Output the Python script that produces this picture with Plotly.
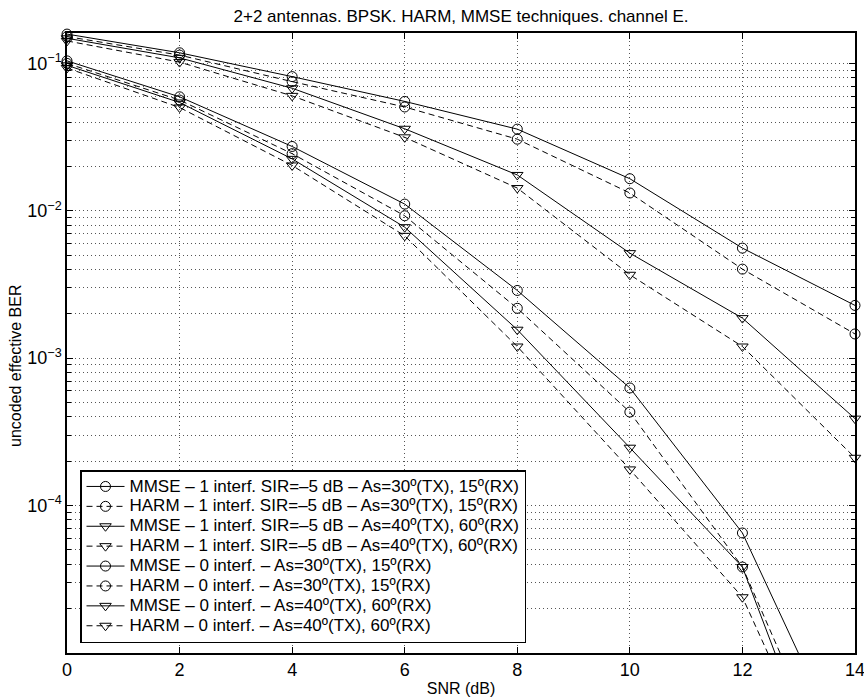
import plotly.graph_objects as go

snr = [0, 2, 4, 6, 8, 10, 12, 14]

mmse_1i_30 = [0.158, 0.118, 0.0813, 0.0552, 0.0358, 0.0165, 0.00558, 0.00228]
harm_1i_30 = [0.152, 0.1138, 0.0752, 0.0506, 0.0306, 0.0132, 0.00402, 0.00146]
mmse_1i_40 = [0.148, 0.109, 0.0678, 0.036, 0.0175, 0.00516, 0.00187, 0.000389]
harm_1i_40 = [0.142, 0.102, 0.0602, 0.0315, 0.01426, 0.00368, 0.0012, 0.000211]
mmse_0i_30 = [0.104, 0.0593, 0.0273, 0.0111, 0.00288, 0.000628, 6.52e-5, 1.5e-6]
harm_0i_30 = [0.100, 0.0564, 0.0244, 0.00925, 0.00218, 0.000431, 3.83e-5, 6.9e-7]
mmse_0i_40 = [0.097, 0.0543, 0.0225, 0.00774, 0.00156, 0.000247, 3.83e-5, 3.7e-7]
harm_0i_40 = [0.093, 0.0502, 0.0203, 0.00676, 0.0012, 0.000176, 2.39e-5, 5e-7]

names = [
    "MMSE – 1 interf. SIR=–5 dB – As=30º(TX), 15º(RX)",
    "HARM – 1 interf. SIR=–5 dB – As=30º(TX), 15º(RX)",
    "MMSE – 1 interf. SIR=–5 dB – As=40º(TX), 60º(RX)",
    "HARM – 1 interf. SIR=–5 dB – As=40º(TX), 60º(RX)",
    "MMSE – 0 interf. – As=30º(TX), 15º(RX)",
    "HARM – 0 interf. – As=30º(TX), 15º(RX)",
    "MMSE – 0 interf. – As=40º(TX), 60º(RX)",
    "HARM – 0 interf. – As=40º(TX), 60º(RX)",
]
series = [mmse_1i_30, harm_1i_30, mmse_1i_40, harm_1i_40,
          mmse_0i_30, harm_0i_30, mmse_0i_40, harm_0i_40]
symbols = ["circle-open", "circle-open", "triangle-down-open", "triangle-down-open"] * 2
dashes = ["solid", "6px,4px"] * 4

FONT = "Liberation Sans, Arial, Helvetica, sans-serif"

fig = go.Figure()
for name, ys, sym, dash in zip(names, series, symbols, dashes):
    fig.add_trace(go.Scatter(
        x=snr, y=ys, mode="lines+markers", cliponaxis=False,
        name='<span style="font-size:17px">' + name + "</span>",
        line=dict(color="black", width=1, dash=dash),
        marker=dict(symbol=sym, size=10, color="black", line=dict(width=1, color="black")),
    ))

tick_font = dict(family=FONT, size=18, color="black")
title_font = dict(family=FONT, size=16, color="black")
grid_col = "#555"
grid_dash = "1px,3px"

fig.update_layout(
    width=864, height=697,
    margin=dict(l=67, r=9, t=33, b=44),
    paper_bgcolor="white", plot_bgcolor="white",
    font=dict(family=FONT, size=16, color="black"),
    title=dict(text="2+2 antennas. BPSK. HARM, MMSE techniques. channel E.",
               x=461 / 864, xanchor="center", y=1 - 16 / 697, yanchor="middle",
               font=dict(family=FONT, size=17, color="black")),
    legend=dict(x=13 / 788, y=10 / 620, xanchor="left", yanchor="bottom",
                bgcolor="white", bordercolor="black", borderwidth=1.5,
                font=dict(family=FONT, size=13, color="black"),
                itemwidth=38, tracegroupgap=0),
    showlegend=True,
    annotations=[dict(text="uncoded effective BER", textangle=-90,
                      xref="paper", yref="paper",
                      x=-52 / 788, y=(653 - 366) / 620,
                      xanchor="center", yanchor="middle", showarrow=False,
                      font=title_font)],
)
fig.update_xaxes(
    range=[0, 14], dtick=2, tick0=0, automargin=False,
    tickfont=tick_font, ticklabeloverflow="allow",
    showline=True, linecolor="black", linewidth=1.5, mirror="allticks",
    ticks="inside", ticklen=6, tickcolor="black",
    showgrid=True, gridcolor=grid_col, griddash=grid_dash, gridwidth=1,
    zeroline=False,
    title=dict(text="SNR (dB)", standoff=4, font=title_font),
)
fig.update_yaxes(
    type="log", range=[-5, -0.794], automargin=False,
    tickvals=[1e-4, 1e-3, 1e-2, 1e-1],
    ticktext=["10<sup>−4</sup>", "10<sup>−3</sup>", "10<sup>−2</sup>", "10<sup>−1</sup>"],
    tickfont=tick_font, ticklabeloverflow="allow",
    showline=True, linecolor="black", linewidth=1.5, mirror="allticks",
    ticks="inside", ticklen=6, tickcolor="black",
    showgrid=True, gridcolor=grid_col, griddash=grid_dash, gridwidth=1,
    minor=dict(ticks="inside", ticklen=4, tickcolor="black", dtick="D1",
               showgrid=True, gridcolor=grid_col, griddash=grid_dash, gridwidth=1),
    zeroline=False,
)

fig.write_html("out.html")
